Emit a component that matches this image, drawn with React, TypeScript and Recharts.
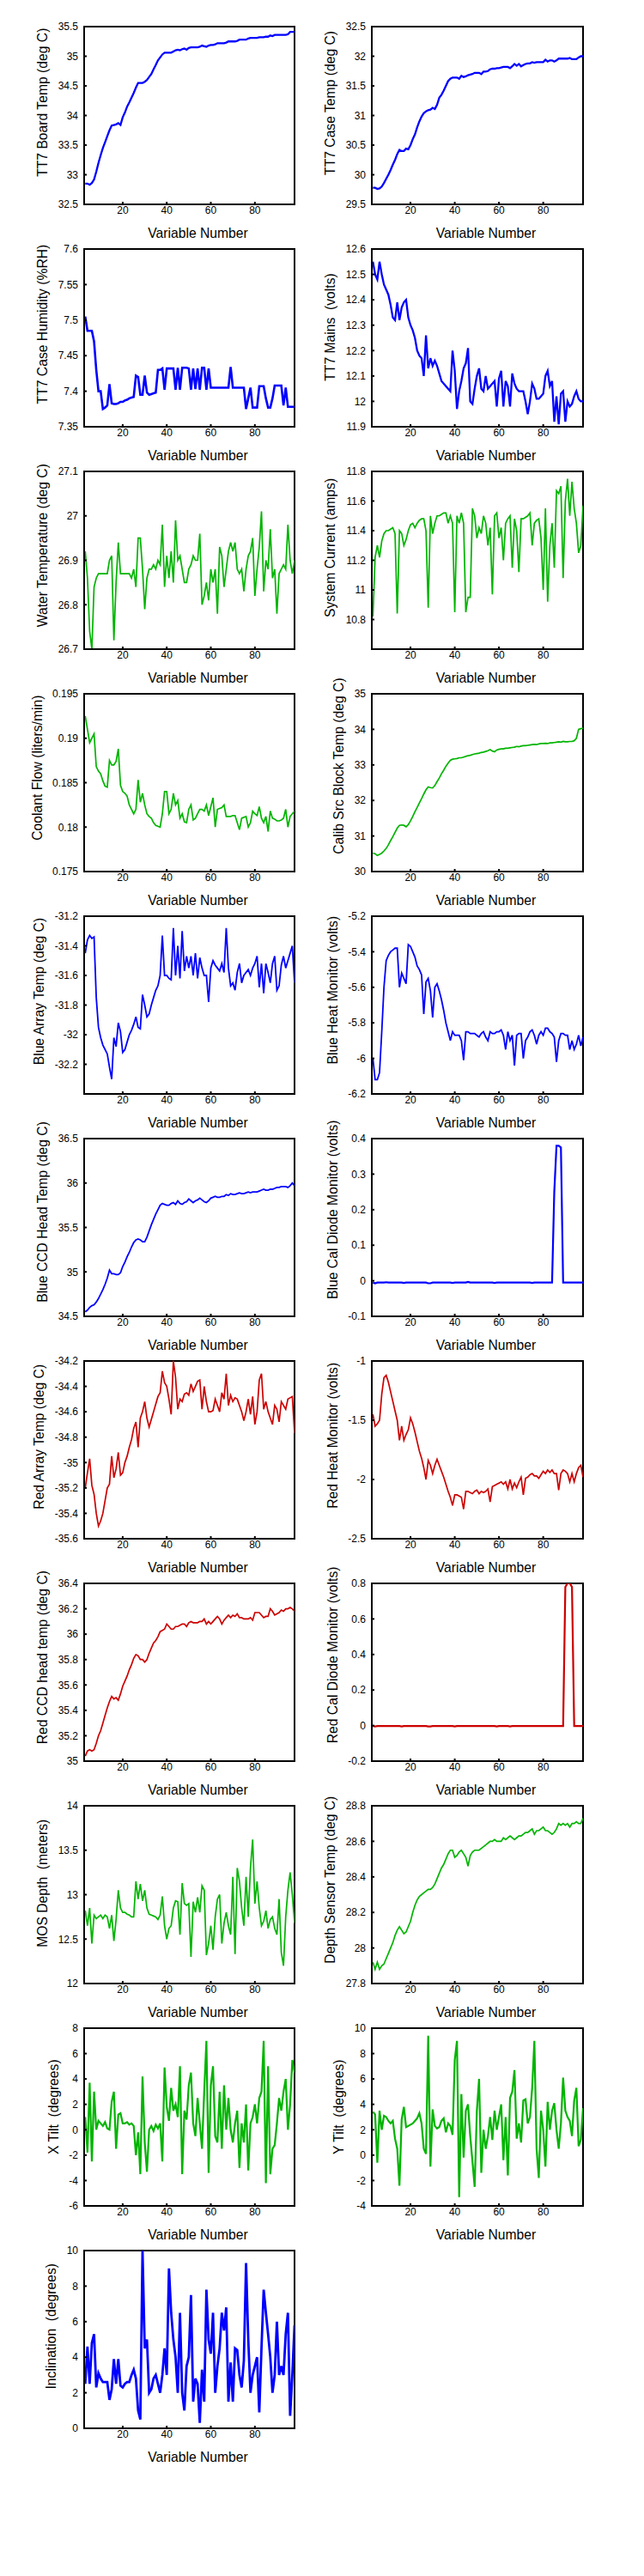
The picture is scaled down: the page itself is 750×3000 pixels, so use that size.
import React from "react";
import { LineChart, Line, XAxis, YAxis, ReferenceArea } from "recharts";

const FONT = '"Liberation Sans", Arial, Helvetica, sans-serif';
const BLUE = "#0000ff";
const GREEN = "#00b400";
const RED = "#cc0000";

// sample index along the x axis
const variableNumbers = [
  3, 4, 5, 6, 7, 8, 9, 10, 11, 12, 13, 14, 15, 16, 17, 18, 19, 20, 21, 22, 23, 24, 25, 26, 27, 28, 29, 30, 31, 32,
  33, 34, 35, 36, 37, 38, 39, 40, 41, 42, 43, 44, 45, 46, 47, 48, 49, 50, 51, 52, 53, 54, 55, 56, 57, 58, 59, 60,
  61, 62, 63, 64, 65, 66, 67, 68, 69, 70, 71, 72, 73, 74, 75, 76, 77, 78, 79, 80, 81, 82, 83, 84, 85, 86, 87, 88,
  89, 90, 91, 92, 93, 94, 95, 96, 97, 98,
];
const xTicks = [20, 40, 60, 80];
const xDomain: [number, number] = [2.5, 98];

const boardTemp = [
  32.85, 32.85, 32.83, 32.86, 32.92, 33.05, 33.2, 33.33, 33.45, 33.55,
  33.65, 33.75, 33.83, 33.84, 33.85, 33.87, 33.84, 33.97, 34.05, 34.15,
  34.22, 34.3, 34.38, 34.47, 34.55, 34.55, 34.55, 34.57, 34.6, 34.65,
  34.7, 34.78, 34.85, 34.93, 34.98, 35.03, 35.06, 35.06, 35.06, 35.06,
  35.08, 35.1, 35.11, 35.1, 35.12, 35.13, 35.11, 35.14, 35.15, 35.15,
  35.15, 35.15, 35.16, 35.18, 35.17, 35.16, 35.18, 35.19, 35.19, 35.2,
  35.22, 35.22, 35.22, 35.22, 35.23, 35.25, 35.25, 35.25, 35.25, 35.26,
  35.28, 35.28, 35.28, 35.28, 35.3, 35.31, 35.31, 35.31, 35.31, 35.32,
  35.32, 35.32, 35.33, 35.33, 35.35, 35.34, 35.36, 35.36, 35.36, 35.36,
  35.36, 35.36, 35.37, 35.41, 35.41, 35.41,
];
const caseTemp = [
  29.78, 29.78, 29.76, 29.77, 29.8, 29.86, 29.93, 30.0, 30.08, 30.17,
  30.25, 30.35, 30.42, 30.4, 30.4, 30.44, 30.43, 30.5, 30.6, 30.68,
  30.8, 30.9, 30.98, 31.04, 31.07, 31.09, 31.1, 31.13, 31.11, 31.18,
  31.3, 31.35, 31.42, 31.5, 31.58, 31.62, 31.64, 31.64, 31.64, 31.62,
  31.67, 31.65, 31.66, 31.68, 31.69, 31.7, 31.72, 31.72, 31.72, 31.7,
  31.74, 31.74, 31.75, 31.78, 31.79, 31.79, 31.8, 31.8, 31.81, 31.82,
  31.82, 31.82, 31.8, 31.83, 31.87, 31.84, 31.87, 31.83, 31.85, 31.87,
  31.88, 31.88, 31.9, 31.89, 31.9, 31.9, 31.9, 31.9, 31.94, 31.91,
  31.93, 31.93, 31.91, 31.93, 31.96, 31.96, 31.96, 31.96, 31.96, 31.97,
  31.95, 31.95, 31.95, 31.98, 32.0, 32.0,
];
const caseHumidity = [
  7.505, 7.485, 7.485, 7.485, 7.47, 7.43, 7.4, 7.4, 7.375, 7.377,
  7.38, 7.41, 7.383, 7.382, 7.382, 7.383, 7.385, 7.385, 7.387, 7.388,
  7.39, 7.391, 7.392, 7.422, 7.42, 7.395, 7.395, 7.422, 7.398, 7.395,
  7.396, 7.397, 7.398, 7.43, 7.43, 7.432, 7.402, 7.432, 7.432, 7.432,
  7.432, 7.402, 7.433, 7.402, 7.433, 7.433, 7.433, 7.432, 7.402, 7.432,
  7.403, 7.432, 7.402, 7.433, 7.433, 7.402, 7.432, 7.405, 7.405, 7.405,
  7.405, 7.405, 7.405, 7.405, 7.405, 7.405, 7.434, 7.405, 7.405, 7.405,
  7.405, 7.405, 7.405, 7.375, 7.39, 7.405, 7.377, 7.377, 7.377, 7.407,
  7.407, 7.407, 7.39, 7.377, 7.377, 7.39, 7.408, 7.408, 7.408, 7.408,
  7.38, 7.405, 7.378, 7.378, 7.378, 7.378,
];
const mains = [
  12.55, 12.5, 12.48, 12.55, 12.5, 12.46, 12.44, 12.42, 12.38, 12.33,
  12.32, 12.39, 12.32, 12.37, 12.39, 12.4, 12.33, 12.3, 12.28, 12.25,
  12.2, 12.18, 12.17, 12.1, 12.26, 12.13, 12.17, 12.14, 12.16, 12.14,
  12.11, 12.08, 12.07, 12.06, 12.05, 12.04, 12.2, 12.12, 11.97, 12.04,
  12.08, 12.13, 12.15, 12.21, 12.0, 11.99, 12.05, 12.1, 12.13, 12.05,
  12.04, 12.1, 12.05, 12.06, 12.07, 12.08, 11.98, 12.09, 12.12, 11.98,
  12.08, 12.06, 11.98, 12.11, 12.07, 12.05, 12.04, 12.04, 12.04, 12.0,
  11.95, 12.0, 12.07, 12.05, 12.01, 12.01, 12.02, 12.03, 12.1, 12.12,
  12.06, 12.08, 11.92, 12.02, 11.91, 12.03, 12.04, 11.92, 12.0, 11.98,
  11.99, 12.02, 12.04, 12.01, 12.0, 12.0,
];
const waterTemp = [
  26.92, 26.86, 26.74, 26.7, 26.84, 26.86, 26.87, 26.87, 26.87, 26.87,
  26.87, 26.9, 26.91, 26.72, 26.85, 26.94, 26.87, 26.87, 26.87, 26.87,
  26.87, 26.86, 26.88, 26.84, 26.95, 26.95, 26.88, 26.79, 26.86, 26.88,
  26.88, 26.89, 26.88, 26.9, 26.89, 26.98, 26.84, 26.91, 26.86, 26.92,
  26.85, 26.99, 26.9, 26.91, 26.88, 26.85, 26.85, 26.88, 26.89, 26.91,
  26.9, 26.9, 26.96, 26.8, 26.82, 26.85, 26.81, 26.88, 26.85, 26.88,
  26.78, 26.93, 26.91, 26.84, 26.88, 26.92, 26.94, 26.92, 26.94, 26.88,
  26.87, 26.88, 26.83, 26.88, 26.91, 26.92, 26.95, 26.82, 26.88, 26.93,
  27.01, 26.83, 26.9, 26.88, 26.97, 26.86, 26.88, 26.78, 26.87, 26.88,
  26.89, 26.88, 26.98, 26.9, 26.87, 26.9,
];
const systemCurrent = [
  10.82, 11.22, 11.3, 11.22, 11.33, 11.38, 11.4, 11.4, 11.41, 11.42,
  11.38, 10.84, 11.4, 11.38, 11.3, 11.34, 11.4, 11.44, 11.45, 11.42,
  11.45, 11.47, 11.48, 11.48, 11.4, 10.88, 11.5, 11.38, 11.45, 11.5,
  11.5, 11.51, 11.52, 11.52, 11.45, 11.5, 11.45, 10.85, 11.5, 11.45,
  11.52, 11.45, 10.85, 10.95, 10.95, 11.55, 11.5, 11.35, 11.42, 11.38,
  11.5, 11.45, 11.3, 11.42, 10.97, 11.5, 11.52, 11.35, 11.42, 11.2,
  11.45, 11.48, 11.5, 11.15, 11.48, 11.4, 11.12, 11.48, 11.48, 11.49,
  11.5, 11.52, 11.3, 11.45, 11.47, 11.48, 11.35, 11.0, 11.55, 10.92,
  11.3, 11.45, 11.15, 11.67, 11.65, 11.7, 11.08, 11.6, 11.75, 11.5,
  11.73, 11.55, 11.45, 11.25, 11.3, 11.57,
];
const coolantFlow = [
  0.1925, 0.191, 0.1895, 0.19, 0.1905, 0.1868, 0.1863, 0.186, 0.1852, 0.1846,
  0.1845, 0.1875, 0.187, 0.187, 0.1874, 0.1888, 0.1847, 0.184, 0.1838, 0.1835,
  0.1825, 0.182, 0.1815, 0.182, 0.1853, 0.1828, 0.1838, 0.1825, 0.1815, 0.1812,
  0.181, 0.1805, 0.1802, 0.1801, 0.18, 0.1815, 0.184, 0.184, 0.1815, 0.182,
  0.1838, 0.1825, 0.183, 0.181, 0.1815, 0.1806, 0.1805, 0.182, 0.1825, 0.1808,
  0.181, 0.1815, 0.182, 0.182, 0.1818, 0.1825, 0.1813, 0.1823, 0.1833, 0.18,
  0.182, 0.1821, 0.1822, 0.1825, 0.1812, 0.1812, 0.1812, 0.1813, 0.1813, 0.1805,
  0.1797, 0.181, 0.1811, 0.1812, 0.18, 0.1805, 0.1818, 0.1815, 0.1813, 0.1823,
  0.181, 0.1805, 0.1812, 0.1795, 0.1818, 0.181, 0.1809, 0.1807, 0.1807, 0.1808,
  0.181, 0.182, 0.18, 0.1812, 0.1815, 0.1818,
];
const calibBlockTemp = [
  30.52, 30.5, 30.45, 30.48, 30.52, 30.58, 30.65, 30.75, 30.87, 30.98,
  31.1, 31.22, 31.3, 31.31, 31.3, 31.26, 31.32, 31.43, 31.55, 31.68,
  31.8, 31.93, 32.05, 32.18, 32.3, 32.38, 32.36, 32.35, 32.42, 32.53,
  32.63, 32.75, 32.85, 32.96, 33.05, 33.13, 33.16, 33.17, 33.18, 33.2,
  33.2, 33.22, 33.24, 33.26, 33.27, 33.29, 33.31, 33.32, 33.33, 33.35,
  33.36, 33.38, 33.4, 33.43, 33.39, 33.37, 33.42, 33.44, 33.45, 33.45,
  33.47, 33.47, 33.48, 33.49, 33.5, 33.52, 33.51, 33.53, 33.54, 33.54,
  33.55, 33.56, 33.57, 33.58, 33.57, 33.59, 33.6, 33.6, 33.61, 33.6,
  33.62, 33.62, 33.63, 33.64, 33.65, 33.64, 33.66, 33.65, 33.65, 33.66,
  33.66, 33.68, 33.75, 34.0, 34.02, 34.03,
];
const blueArrayTemp = [
  -31.45, -31.36, -31.33, -31.35, -31.34, -31.75, -31.95, -32.02, -32.07, -32.1,
  -32.13, -32.22, -32.3, -32.02, -32.08, -31.92, -31.98, -32.12, -32.1, -32.05,
  -32.0, -31.97, -31.93, -31.88, -31.95, -31.96, -31.73, -31.8, -31.88, -31.86,
  -31.8, -31.75, -31.7, -31.67, -31.6, -31.33, -31.6, -31.6, -31.62, -31.63,
  -31.28, -31.6, -31.4, -31.62, -31.3, -31.57, -31.47, -31.55, -31.47, -31.6,
  -31.45, -31.62, -31.48, -31.55, -31.6, -31.6, -31.78, -31.55, -31.5, -31.53,
  -31.55, -31.57, -31.52, -31.58, -31.28, -31.55, -31.67, -31.65, -31.7, -31.58,
  -31.52, -31.65, -31.6, -31.58, -31.56, -31.6, -31.55, -31.52, -31.47, -31.68,
  -31.52, -31.72, -31.52, -31.58, -31.65, -31.52, -31.47, -31.7, -31.67, -31.53,
  -31.47, -31.55, -31.5, -31.45, -31.4, -31.65,
];
const blueHeatMonitor = [
  -6.0, -6.12, -6.12, -6.08, -5.85, -5.6, -5.45, -5.42, -5.4, -5.39,
  -5.38, -5.38, -5.6, -5.52, -5.55, -5.58, -5.36, -5.37, -5.4, -5.43,
  -5.48, -5.5, -5.53, -5.75, -5.57, -5.55, -5.62, -5.77, -5.6, -5.58,
  -5.62, -5.67, -5.73, -5.8, -5.85, -5.9, -5.85, -5.87, -5.87, -5.87,
  -5.9, -6.01, -5.85, -5.85, -5.86, -5.86, -5.86, -5.87, -5.88, -5.86,
  -5.85, -5.88, -5.9, -5.85, -5.86, -5.86, -5.85, -5.85, -5.84, -5.87,
  -5.95, -5.85, -5.9, -5.87, -6.04, -5.87, -5.86, -5.86, -6.0, -5.9,
  -5.88, -5.85, -5.84, -5.87, -5.92, -5.87, -5.85, -5.87, -5.83, -5.83,
  -5.85, -5.86, -5.88, -6.02, -5.9, -5.86, -5.86, -5.87, -5.87, -5.95,
  -5.9, -5.95, -5.92, -5.87, -5.93, -5.88,
];
const blueCcdTemp = [
  34.55, 34.57, 34.6, 34.62, 34.63, 34.66, 34.7, 34.75, 34.8, 34.86,
  34.93, 35.02, 34.98, 34.98, 34.97, 34.97, 34.99, 35.06, 35.11, 35.17,
  35.22, 35.28, 35.33, 35.36, 35.37, 35.36, 35.34, 35.34, 35.39, 35.46,
  35.53, 35.59, 35.65, 35.7, 35.75, 35.77, 35.76, 35.75, 35.75, 35.77,
  35.78, 35.76, 35.8, 35.77, 35.76, 35.78, 35.79, 35.82, 35.8, 35.78,
  35.8, 35.81, 35.83, 35.81, 35.79, 35.78, 35.8, 35.83, 35.84, 35.85,
  35.84, 35.84, 35.85, 35.85, 35.87, 35.86, 35.88, 35.87, 35.87, 35.88,
  35.89, 35.88, 35.88, 35.89, 35.9, 35.89, 35.9, 35.9, 35.9, 35.91,
  35.92, 35.93, 35.92, 35.92, 35.93, 35.93, 35.94, 35.95, 35.95, 35.96,
  35.96, 35.96, 35.95, 35.97, 36.0, 35.97,
];
const blueCalDiode = [
  -0.005, -0.007, -0.005, -0.005, -0.005, -0.005, -0.004, -0.005, -0.005, -0.005,
  -0.005, -0.005, -0.005, -0.005, -0.006, -0.005, -0.005, -0.005, -0.005, -0.005,
  -0.005, -0.005, -0.005, -0.005, -0.005, -0.007, -0.007, -0.005, -0.005, -0.005,
  -0.005, -0.005, -0.005, -0.005, -0.005, -0.005, -0.006, -0.005, -0.005, -0.005,
  -0.005, -0.005, -0.005, -0.003, -0.005, -0.005, -0.005, -0.005, -0.005, -0.005,
  -0.005, -0.005, -0.005, -0.005, -0.005, -0.006, -0.005, -0.005, -0.005, -0.005,
  -0.005, -0.005, -0.005, -0.005, -0.005, -0.005, -0.005, -0.005, -0.005, -0.005,
  -0.005, -0.005, -0.006, -0.005, -0.005, -0.005, -0.005, -0.005, -0.005, -0.005,
  -0.005, -0.005, 0.25, 0.38, 0.38, 0.375, -0.005, -0.005, -0.005, -0.005,
  -0.005, -0.005, -0.005, -0.005, -0.005, -0.005,
];
const redArrayTemp = [
  -35.2, -35.08, -34.97, -35.18, -35.25, -35.4, -35.5, -35.46, -35.4, -35.3,
  -35.2, -35.17, -34.95, -35.12, -35.05, -34.92, -35.1, -35.08, -35.0, -34.95,
  -34.88, -34.82, -34.73, -34.68, -34.88, -34.65, -34.6, -34.52, -34.65, -34.72,
  -34.66, -34.6, -34.54, -34.48, -34.45, -34.28, -34.37, -34.4, -34.5, -34.62,
  -34.2, -34.33, -34.58, -34.5, -34.52, -34.46, -34.45, -34.47, -34.38, -34.44,
  -34.4, -34.36, -34.35, -34.58, -34.4, -34.52, -34.6, -34.6, -34.59, -34.5,
  -34.55, -34.6, -34.45, -34.5, -34.3, -34.55, -34.47, -34.52, -34.49, -34.5,
  -34.55, -34.6, -34.67, -34.6, -34.5, -34.62, -34.48, -34.7, -34.6, -34.35,
  -34.3, -34.58, -34.52, -34.6, -34.65, -34.7, -34.55, -34.58, -34.68, -34.52,
  -34.55, -34.58, -34.5, -34.49, -34.48, -34.77,
];
const redHeatMonitor = [
  -1.45, -1.55, -1.53, -1.5, -1.28, -1.14, -1.12, -1.18, -1.26, -1.34,
  -1.42, -1.5, -1.67, -1.55, -1.67, -1.62, -1.58, -1.48, -1.53, -1.6,
  -1.68, -1.76, -1.82, -1.9, -2.0, -1.84, -1.88, -1.95, -1.88, -1.83,
  -1.88, -1.93, -1.98, -2.04, -2.1, -2.15, -2.22, -2.13, -2.13, -2.14,
  -2.15, -2.25, -2.1, -2.1, -2.11, -2.12, -2.1, -2.09, -2.12, -2.1,
  -2.11, -2.1, -2.08, -2.19, -2.06, -2.05, -2.04, -2.03, -2.02, -2.04,
  -2.02, -2.08, -2.0, -2.08, -2.03, -2.07, -2.02, -1.98, -2.13, -1.99,
  -1.98, -1.96, -1.95, -1.97, -1.97, -1.99, -1.96, -1.93, -1.95, -1.92,
  -1.94, -1.92, -1.95, -1.95, -2.09, -1.95, -1.92, -1.93, -1.95, -2.02,
  -1.95, -2.02, -1.95, -1.9, -1.88, -1.98,
];
const redCcdTemp = [
  35.04, 35.08, 35.09, 35.08, 35.09, 35.14, 35.2, 35.24, 35.3, 35.36,
  35.42, 35.47, 35.51, 35.49, 35.5, 35.48, 35.53, 35.59, 35.63, 35.67,
  35.72, 35.76, 35.81, 35.84, 35.83, 35.8, 35.8, 35.78, 35.8, 35.85,
  35.89, 35.93, 35.95, 35.98, 36.02, 36.03, 36.04, 36.08, 36.06, 36.04,
  36.04, 36.06, 36.06, 36.07, 36.08, 36.08, 36.06, 36.09, 36.1, 36.09,
  36.09, 36.09, 36.1, 36.1, 36.12, 36.08, 36.1, 36.08, 36.1, 36.12,
  36.14, 36.12, 36.08, 36.11, 36.13, 36.15, 36.13, 36.15, 36.14, 36.16,
  36.13, 36.13, 36.12, 36.12, 36.12, 36.13, 36.11, 36.17, 36.17, 36.17,
  36.15, 36.13, 36.14, 36.14, 36.2, 36.18, 36.15, 36.16, 36.17, 36.19,
  36.18, 36.2, 36.2, 36.21, 36.2, 36.18,
];
const redCalDiode = [
  -0.003, -0.005, -0.003, -0.003, -0.003, -0.003, -0.003, -0.003, -0.003, -0.003,
  -0.003, -0.003, -0.003, -0.005, -0.003, -0.003, -0.003, -0.003, -0.003, -0.003,
  -0.003, -0.003, -0.003, -0.003, -0.003, -0.005, -0.005, -0.003, -0.003, -0.003,
  -0.003, -0.003, -0.003, -0.003, -0.003, -0.003, -0.003, -0.005, -0.003, -0.003,
  -0.003, -0.003, -0.003, -0.003, -0.003, -0.003, -0.003, -0.003, -0.003, -0.003,
  -0.003, -0.003, -0.003, -0.003, -0.003, -0.003, -0.005, -0.003, -0.003, -0.003,
  -0.003, -0.003, -0.005, -0.003, -0.003, -0.003, -0.003, -0.003, -0.003, -0.003,
  -0.003, -0.003, -0.003, -0.003, -0.003, -0.003, -0.003, -0.003, -0.003, -0.003,
  -0.003, -0.003, -0.003, -0.003, -0.003, -0.003, -0.003, 0.78, 0.8, 0.8,
  0.78, -0.003, -0.003, -0.003, -0.003, -0.003,
];
const mosDepth = [
  12.82, 12.65, 12.85, 12.45, 12.77, 12.73, 12.75, 12.77, 12.73, 12.77,
  12.75, 12.62, 12.77, 12.48, 12.72, 13.05, 12.85, 12.8, 12.8, 12.78,
  12.77, 12.75, 12.75, 13.15, 12.95, 13.12, 12.93, 13.05, 12.85, 12.78,
  12.77, 12.76, 12.75, 12.72, 12.77, 12.98, 12.65, 12.5, 12.62, 12.65,
  12.85, 12.93, 12.92, 12.55, 13.13, 12.9, 12.88, 12.9, 12.3, 12.92,
  12.8, 12.97, 12.8, 13.1, 13.05, 12.32, 12.45, 12.65, 12.38, 12.75,
  12.95, 13.0, 12.45, 12.68, 12.8, 12.65, 12.55, 13.2, 12.33, 13.3,
  13.15, 12.85, 12.65, 13.2, 12.75, 13.3, 13.62, 12.9, 13.15, 12.85,
  12.65, 12.7, 12.82, 12.62, 12.72, 12.75, 12.62, 12.55, 12.95, 12.35,
  12.2, 12.75, 13.05, 13.25, 13.0, 12.68,
];
const depthSensorTemp = [
  27.92, 27.88, 27.92, 27.88, 27.9, 27.91, 27.94, 27.97, 28.0, 28.03,
  28.07, 28.1, 28.12, 28.1, 28.08, 28.09, 28.12, 28.15, 28.2, 28.24,
  28.27, 28.29, 28.3, 28.31, 28.32, 28.33, 28.33, 28.34, 28.36, 28.39,
  28.42, 28.45, 28.47, 28.5, 28.53, 28.55, 28.55, 28.51, 28.52, 28.54,
  28.55, 28.53, 28.51, 28.46, 28.52, 28.54, 28.55, 28.55, 28.55, 28.56,
  28.57, 28.58, 28.59, 28.6, 28.6, 28.61, 28.6, 28.6, 28.6, 28.62,
  28.61, 28.62, 28.63, 28.62, 28.61, 28.62, 28.63, 28.63, 28.64, 28.65,
  28.65, 28.66, 28.67, 28.64, 28.66, 28.66, 28.67, 28.68, 28.66, 28.66,
  28.65, 28.64, 28.65, 28.67, 28.7, 28.69, 28.7, 28.69, 28.7, 28.68,
  28.7, 28.7, 28.71, 28.7, 28.7, 28.73,
];
const xTilt = [
  1.0, -1.8, 3.7, -2.5, 3.0, 0.0, 0.7, 0.5, 0.3, 0.6,
  0.1, 0.0, 2.2, 3.0, -1.5, 1.2, 1.3, 0.5, 0.5, 0.6,
  0.4, 0.5, 0.3, -2.0, -0.2, -3.5, 4.2, -1.0, -3.3, 0.0,
  0.3, -0.1, 0.4, 0.1, 0.5, -2.5, 4.9, 1.8, 0.7, 3.3,
  1.5, 2.0, 1.0, 5.0, -3.5, 1.5, 0.8, 3.5, 4.5, 0.5,
  -0.5, 2.5, 0.5, -1.5, 3.0, 7.0, -3.4, 3.5, 5.0, -0.5,
  -1.0, 3.0, -1.5, 3.5, 0.0, 2.5, 0.0, -1.0, 0.5, 1.5,
  -3.0, 0.5, -1.0, 2.0, -3.2, 0.5, 1.0, 2.0, 0.5, 2.5,
  3.0, 7.0, -4.2, 5.0, -3.5, -1.5, -1.2, 0.5, 2.5, 1.5,
  3.0, 4.0, 0.0, 2.0, 5.5, 4.5,
];
const yTilt = [
  3.4, 3.2, -0.6, 3.5, 2.0, 3.1, 3.0, 2.7, 2.5, 2.7,
  1.3, 0.5, -2.4, 2.8, 3.8, 2.2, 2.3, 2.4, 2.5, 2.7,
  2.9, 3.3, 2.5, 0.5, 0.1, 9.4, -0.9, 3.6, 2.3, 2.1,
  2.2, 2.7, 2.9, 1.8, 2.5, 2.3, 1.6, 7.5, 9.0, -3.3,
  4.8, -0.2, 3.5, 4.0, 1.5, -0.5, -2.5, 3.5, 6.0, -1.4,
  2.0, 0.5, 1.5, 3.0, 1.2, 3.5, 2.0, 3.0, 4.0, -0.4,
  3.0, -1.6, 4.5, 5.0, 6.7, 1.3, 2.5, 1.0, 4.3, 4.4,
  2.5, 3.0, 5.3, 9.0, 0.5, -1.8, 3.5, 2.0, -0.9, 4.2,
  2.0, 3.5, 4.1, 2.0, 0.5, 2.5, 6.1, 3.5, 3.0, 2.7,
  1.5, 4.3, 5.3, 0.7, 1.2, 3.7,
];
const inclination = [
  2.5, 4.6, 2.5, 4.8, 5.3, 2.3, 3.1, 2.8, 2.6, 2.6,
  2.6, 1.6, 2.2, 3.9, 2.5, 3.9, 2.4, 2.3, 2.5, 2.6,
  2.6, 3.0, 3.3, 2.8, 1.0, 0.5, 10.0, 4.5, 5.0, 2.0,
  2.2, 2.8, 3.0, 2.5, 2.0, 3.0, 4.5, 3.0, 9.0, 6.5,
  5.0, 4.0, 2.0, 6.5, 2.0, 1.0, 3.5, 4.0, 7.5, 1.5,
  2.8, 2.5, 0.3, 3.3, 1.5, 7.8, 5.0, 4.2, 6.5, 2.0,
  3.5, 4.5, 6.5, 5.5, 6.8, 1.5, 3.7, 1.5, 4.5, 4.4,
  3.0, 2.3, 3.8, 9.3, 5.0, 2.0, 3.0, 3.5, 4.0, 0.9,
  4.5, 7.8, 6.5, 5.3, 4.0, 2.0, 3.0, 6.0, 3.0, 3.5,
  3.0, 5.3, 6.5, 0.7, 3.0, 5.8,
];

// y tick labels for each panel
const boardTempTicks = [32.5, 33, 33.5, 34, 34.5, 35, 35.5];
const caseTempTicks = [29.5, 30, 30.5, 31, 31.5, 32, 32.5];
const humidityTicks = [7.35, 7.4, 7.45, 7.5, 7.55, 7.6];
const mainsTicks = [11.9, 12, 12.1, 12.2, 12.3, 12.4, 12.5, 12.6];
const waterTicks = [26.7, 26.8, 26.9, 27, 27.1];
const currentTicks = [10.8, 11, 11.2, 11.4, 11.6, 11.8];
const flowTicks = [0.175, 0.18, 0.185, 0.19, 0.195];
const calibTicks = [30, 31, 32, 33, 34, 35];
const blueArrayTicks = [-32.2, -32, -31.8, -31.6, -31.4, -31.2];
const blueHeatTicks = [-6.2, -6, -5.8, -5.6, -5.4, -5.2];
const blueCcdTicks = [34.5, 35, 35.5, 36, 36.5];
const blueCalTicks = [-0.1, 0, 0.1, 0.2, 0.3, 0.4];
const redArrayTicks = [-35.6, -35.4, -35.2, -35, -34.8, -34.6, -34.4, -34.2];
const redHeatTicks = [-2.5, -2, -1.5, -1];
const redCcdTicks = [35, 35.2, 35.4, 35.6, 35.8, 36, 36.2, 36.4];
const redCalTicks = [-0.2, 0, 0.2, 0.4, 0.6, 0.8];
const mosTicks = [12, 12.5, 13, 13.5, 14];
const depthTempTicks = [27.8, 28, 28.2, 28.4, 28.6, 28.8];
const xTiltTicks = [-6, -4, -2, 0, 2, 4, 6, 8];
const yTiltTicks = [-4, -2, 0, 2, 4, 6, 8, 10];
const inclinationTicks = [0, 2, 4, 6, 8, 10];

type PanelSpec = {
  label: string;
  values: number[];
  color: string;
  domain: [number, number];
  ticks: number[];
  lineWidth: number;
};

const panels: PanelSpec[] = [
  { label: "TT7 Board Temp (deg C)", values: boardTemp, color: BLUE, domain: [32.5, 35.5], ticks: boardTempTicks, lineWidth: 2.3 },
  { label: "TT7 Case Temp (deg C)", values: caseTemp, color: BLUE, domain: [29.5, 32.5], ticks: caseTempTicks, lineWidth: 2.3 },
  { label: "TT7 Case Humidity (%RH)", values: caseHumidity, color: BLUE, domain: [7.35, 7.6], ticks: humidityTicks, lineWidth: 2.6 },
  { label: "TT7 Mains  (volts)", values: mains, color: BLUE, domain: [11.9, 12.6], ticks: mainsTicks, lineWidth: 2.3 },
  { label: "Water Temperature (deg C)", values: waterTemp, color: GREEN, domain: [26.7, 27.1], ticks: waterTicks, lineWidth: 1.7 },
  { label: "System Current (amps)", values: systemCurrent, color: GREEN, domain: [10.6, 11.8], ticks: currentTicks, lineWidth: 1.7 },
  { label: "Coolant Flow (liters/min)", values: coolantFlow, color: GREEN, domain: [0.175, 0.195], ticks: flowTicks, lineWidth: 1.7 },
  { label: "Calib Src Block Temp (deg C)", values: calibBlockTemp, color: GREEN, domain: [30, 35], ticks: calibTicks, lineWidth: 1.7 },
  { label: "Blue Array Temp (deg C)", values: blueArrayTemp, color: BLUE, domain: [-32.4, -31.2], ticks: blueArrayTicks, lineWidth: 1.8 },
  { label: "Blue Heat Monitor (volts)", values: blueHeatMonitor, color: BLUE, domain: [-6.2, -5.2], ticks: blueHeatTicks, lineWidth: 1.8 },
  { label: "Blue CCD Head Temp (deg C)", values: blueCcdTemp, color: BLUE, domain: [34.5, 36.5], ticks: blueCcdTicks, lineWidth: 1.8 },
  { label: "Blue Cal Diode Monitor (volts)", values: blueCalDiode, color: BLUE, domain: [-0.1, 0.4], ticks: blueCalTicks, lineWidth: 2.2 },
  { label: "Red Array Temp (deg C)", values: redArrayTemp, color: RED, domain: [-35.6, -34.2], ticks: redArrayTicks, lineWidth: 1.7 },
  { label: "Red Heat Monitor (volts)", values: redHeatMonitor, color: RED, domain: [-2.5, -1], ticks: redHeatTicks, lineWidth: 1.7 },
  { label: "Red CCD head temp (deg C)", values: redCcdTemp, color: RED, domain: [35, 36.4], ticks: redCcdTicks, lineWidth: 1.7 },
  { label: "Red Cal Diode Monitor (volts)", values: redCalDiode, color: RED, domain: [-0.2, 0.8], ticks: redCalTicks, lineWidth: 2.2 },
  { label: "MOS Depth  (meters)", values: mosDepth, color: GREEN, domain: [12, 14], ticks: mosTicks, lineWidth: 1.7 },
  { label: "Depth Sensor Temp (deg C)", values: depthSensorTemp, color: GREEN, domain: [27.8, 28.8], ticks: depthTempTicks, lineWidth: 1.7 },
  { label: "X Tilt  (degrees)", values: xTilt, color: GREEN, domain: [-6, 8], ticks: xTiltTicks, lineWidth: 2.2 },
  { label: "Y Tilt  (degrees)", values: yTilt, color: GREEN, domain: [-4, 10], ticks: yTiltTicks, lineWidth: 2.2 },
  { label: "Inclination  (degrees)", values: inclination, color: BLUE, domain: [0, 10], ticks: inclinationTicks, lineWidth: 2.8 },
];

const PLOT_TOP = 31;
const PLOT_H = 207;
const ROW_PITCH = 259;
const COL_W = 375;
const TICK_LEN = -3; // MATLAB style ticks point into the box

const axisStroke = { stroke: "#000", strokeWidth: 2 };
const tickFont = { fill: "#000", fontSize: 12, fontFamily: FONT };

// rough advance widths of a 12px Arial tick label
function tickTextWidth(s: string) {
  let w = 0;
  for (const ch of s) w += ch === "." ? 3.33 : ch === "-" ? 4 : 6.67;
  return w;
}

function ChartPanel({ spec, index }: { spec: PanelSpec; index: number }) {
  const col = index % 2;
  const row = Math.floor(index / 2);
  const plotLeft = col === 0 ? 98 : 58;
  const rightMargin = col === 0 ? 32 : 71;
  const plotW = COL_W - plotLeft - rightMargin;
  const data = variableNumbers.map((x, i) => ({ x, y: spec.values[i] }));

  const maxTick = Math.max(...spec.ticks.map((t) => tickTextWidth(String(t))));
  const yLabelX = plotLeft - 7 - maxTick - 17;
  const yLabelY = PLOT_TOP + PLOT_H / 2 - 0.09 * spec.label.length * 7.7;
  const xLabelX = plotLeft + plotW / 2 + 10;
  const xLabelY = PLOT_TOP + PLOT_H + 39;

  return (
    <div style={{ position: "absolute", left: col * COL_W, top: row * ROW_PITCH }}>
      <LineChart
        width={COL_W}
        height={PLOT_TOP + PLOT_H + 50}
        data={data}
        margin={{ top: PLOT_TOP, right: rightMargin, bottom: 0, left: 0 }}
      >
        <XAxis
          xAxisId="bottom"
          dataKey="x"
          type="number"
          domain={xDomain}
          ticks={xTicks}
          allowDataOverflow
          interval={0}
          height={50}
          tickSize={TICK_LEN}
          tickMargin={5}
          tick={tickFont}
          axisLine={axisStroke}
          tickLine={axisStroke}
          label={{
            content: () => (
              <text x={xLabelX} y={xLabelY} textAnchor="middle" fontSize={15.7} fontFamily={FONT} fill="#000">
                Variable Number
              </text>
            ),
          }}
        />
        <XAxis
          xAxisId="top"
          orientation="top"
          dataKey="x"
          type="number"
          domain={xDomain}
          ticks={xTicks}
          allowDataOverflow
          interval={0}
          height={0}
          tickSize={TICK_LEN}
          tick={false}
          axisLine={axisStroke}
          tickLine={axisStroke}
        />
        <YAxis
          yAxisId="left"
          type="number"
          domain={spec.domain}
          ticks={spec.ticks}
          allowDataOverflow
          interval={0}
          width={plotLeft}
          tickSize={TICK_LEN}
          tickMargin={10}
          tick={tickFont}
          axisLine={axisStroke}
          tickLine={axisStroke}
          label={{
            content: () => (
              <text
                x={yLabelX}
                y={yLabelY}
                dy="0.3em"
                transform={`rotate(-90 ${yLabelX} ${yLabelY})`}
                textAnchor="middle"
                fontSize={15.7}
                fontFamily={FONT}
                fill="#000"
                xmlSpace="preserve"
                style={{ whiteSpace: "pre" }}
              >
                {spec.label}
              </text>
            ),
          }}
        />
        <YAxis
          yAxisId="right"
          orientation="right"
          type="number"
          domain={spec.domain}
          ticks={spec.ticks}
          allowDataOverflow
          interval={0}
          width={0}
          tickSize={TICK_LEN}
          tick={false}
          axisLine={axisStroke}
          tickLine={axisStroke}
        />
        <Line
          xAxisId="bottom"
          yAxisId="left"
          type="linear"
          dataKey="y"
          stroke={spec.color}
          strokeWidth={spec.lineWidth}
          dot={false}
          activeDot={false}
          isAnimationActive={false}
        />
        {/* closed box round the plot area */}
        <ReferenceArea
          xAxisId="bottom"
          yAxisId="left"
          x1={xDomain[0]}
          x2={xDomain[1]}
          y1={spec.domain[0]}
          y2={spec.domain[1]}
          fill="none"
          stroke="#000"
          strokeWidth={2}
          ifOverflow="visible"
        />
      </LineChart>
    </div>
  );
}

export default function App() {
  return (
    <div style={{ position: "absolute", left: 0, top: 0, width: 750, height: 3000, background: "#fff" }}>
      {panels.map((p, i) => (
        <ChartPanel key={p.label} spec={p} index={i} />
      ))}
    </div>
  );
}
